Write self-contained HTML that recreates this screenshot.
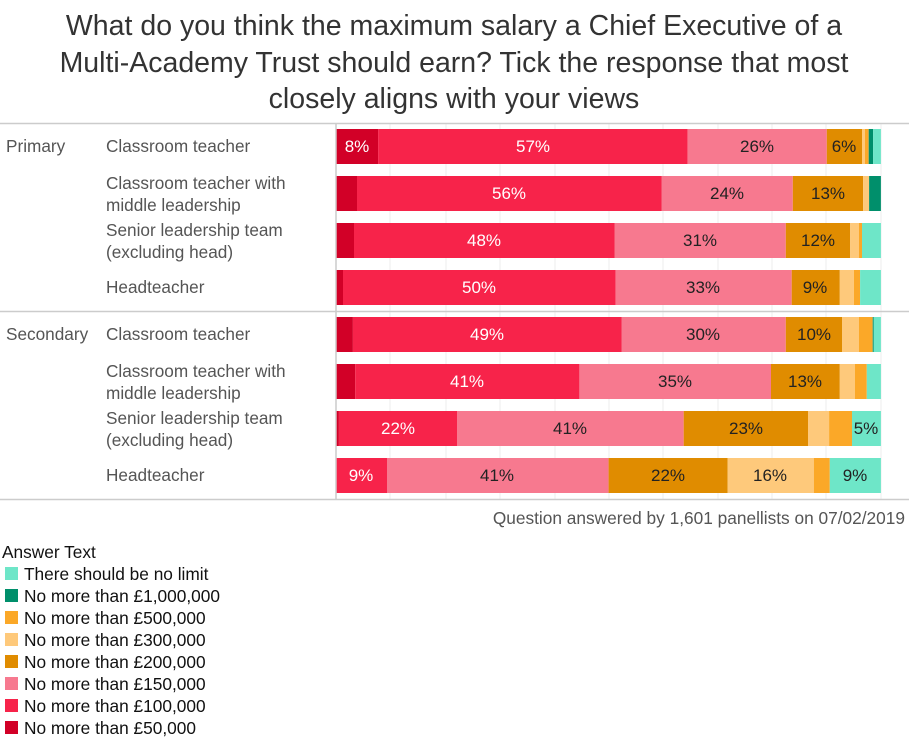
<!DOCTYPE html>
<html><head><meta charset="utf-8"><style>
body{margin:0;background:#fff;}
svg{display:block;font-family:"Liberation Sans",sans-serif;}
</style></head><body>
<svg width="909" height="739" viewBox="0 0 909 739">
<g font-size="28.5" fill="#333" text-anchor="middle">
<text x="454" y="35">What do you think the maximum salary a Chief Executive of a</text>
<text x="454" y="72">Multi-Academy Trust should earn? Tick the response that most</text>
<text x="454" y="108">closely aligns with your views</text>
</g>
<g stroke="#eee" stroke-width="1">
<line x1="390" y1="124" x2="390" y2="499"/><line x1="446" y1="124" x2="446" y2="499"/>
<line x1="500" y1="124" x2="500" y2="499"/><line x1="555" y1="124" x2="555" y2="499"/>
<line x1="609" y1="124" x2="609" y2="499"/><line x1="663" y1="124" x2="663" y2="499"/>
<line x1="718" y1="124" x2="718" y2="499"/><line x1="772" y1="124" x2="772" y2="499"/>
<line x1="826" y1="124" x2="826" y2="499"/><line x1="881" y1="124" x2="881" y2="499"/>
</g>
<g stroke="#ccc" stroke-width="1.5">
<line x1="0" y1="123.5" x2="909" y2="123.5"/>
<line x1="0" y1="311.5" x2="909" y2="311.5"/>
<line x1="0" y1="499.5" x2="909" y2="499.5"/>
<line x1="336" y1="123" x2="336" y2="499"/>
</g>
<g font-size="17.2" fill="#555">
<text x="6" y="152">Primary</text>
<text x="6" y="340">Secondary</text>
<text x="106" y="152">Classroom teacher</text>
<text x="106" y="189">Classroom teacher with</text><text x="106" y="211">middle leadership</text>
<text x="106" y="236">Senior leadership team</text><text x="106" y="258">(excluding head)</text>
<text x="106" y="293">Headteacher</text>
<text x="106" y="340">Classroom teacher</text>
<text x="106" y="377">Classroom teacher with</text><text x="106" y="399">middle leadership</text>
<text x="106" y="424">Senior leadership team</text><text x="106" y="446">(excluding head)</text>
<text x="106" y="481">Headteacher</text>
</g>
<g>
<rect x="336.7" y="129" width="41.4" height="35" fill="#d20027"/>
<rect x="378.1" y="129" width="309.6" height="35" fill="#f7234a"/>
<rect x="687.7" y="129" width="139.1" height="35" fill="#f7798f"/>
<rect x="826.8" y="129" width="35.2" height="35" fill="#e08c00"/>
<rect x="862" y="129" width="3" height="35" fill="#fec97b"/>
<rect x="865" y="129" width="3.7" height="35" fill="#fba828"/>
<rect x="868.7" y="129" width="4.4" height="35" fill="#008f6b"/>
<rect x="873.1" y="129" width="7.8" height="35" fill="#6ee6c8"/>
<rect x="336.7" y="176" width="20.3" height="35" fill="#d20027"/>
<rect x="357" y="176" width="304.5" height="35" fill="#f7234a"/>
<rect x="661.5" y="176" width="131.3" height="35" fill="#f7798f"/>
<rect x="792.8" y="176" width="70.3" height="35" fill="#e08c00"/>
<rect x="863.1" y="176" width="6" height="35" fill="#fec97b"/>
<rect x="869.1" y="176" width="11.8" height="35" fill="#008f6b"/>
<rect x="336.7" y="223" width="17.3" height="35" fill="#d20027"/>
<rect x="354" y="223" width="260.5" height="35" fill="#f7234a"/>
<rect x="614.5" y="223" width="171.3" height="35" fill="#f7798f"/>
<rect x="785.8" y="223" width="64.4" height="35" fill="#e08c00"/>
<rect x="850.2" y="223" width="8.8" height="35" fill="#fec97b"/>
<rect x="859" y="223" width="3" height="35" fill="#fba828"/>
<rect x="862" y="223" width="18.9" height="35" fill="#6ee6c8"/>
<rect x="336.7" y="270" width="6.3" height="35" fill="#d20027"/>
<rect x="343" y="270" width="272.6" height="35" fill="#f7234a"/>
<rect x="615.6" y="270" width="176.1" height="35" fill="#f7798f"/>
<rect x="791.7" y="270" width="48.1" height="35" fill="#e08c00"/>
<rect x="839.8" y="270" width="14.1" height="35" fill="#fec97b"/>
<rect x="853.9" y="270" width="6.2" height="35" fill="#fba828"/>
<rect x="860.1" y="270" width="20.8" height="35" fill="#6ee6c8"/>
<rect x="336.7" y="317" width="16.2" height="35" fill="#d20027"/>
<rect x="352.9" y="317" width="268.6" height="35" fill="#f7234a"/>
<rect x="621.5" y="317" width="164.3" height="35" fill="#f7798f"/>
<rect x="785.8" y="317" width="56.2" height="35" fill="#e08c00"/>
<rect x="842" y="317" width="17" height="35" fill="#fec97b"/>
<rect x="859" y="317" width="13.7" height="35" fill="#fba828"/>
<rect x="872.7" y="317" width="1.1" height="35" fill="#008f6b"/>
<rect x="873.8" y="317" width="7.1" height="35" fill="#6ee6c8"/>
<rect x="336.7" y="364" width="18.5" height="35" fill="#d20027"/>
<rect x="355.2" y="364" width="224.2" height="35" fill="#f7234a"/>
<rect x="579.4" y="364" width="191.6" height="35" fill="#f7798f"/>
<rect x="771" y="364" width="68.8" height="35" fill="#e08c00"/>
<rect x="839.8" y="364" width="15.2" height="35" fill="#fec97b"/>
<rect x="855" y="364" width="11.8" height="35" fill="#fba828"/>
<rect x="866.8" y="364" width="14.1" height="35" fill="#6ee6c8"/>
<rect x="336.7" y="411" width="2.2" height="35" fill="#d20027"/>
<rect x="338.9" y="411" width="118.4" height="35" fill="#f7234a"/>
<rect x="457.3" y="411" width="226.4" height="35" fill="#f7798f"/>
<rect x="683.7" y="411" width="124.3" height="35" fill="#e08c00"/>
<rect x="808" y="411" width="21.1" height="35" fill="#fec97b"/>
<rect x="829.1" y="411" width="22.9" height="35" fill="#fba828"/>
<rect x="852" y="411" width="28.9" height="35" fill="#6ee6c8"/>
<rect x="336.7" y="458" width="50.3" height="35" fill="#f7234a"/>
<rect x="387" y="458" width="221.6" height="35" fill="#f7798f"/>
<rect x="608.6" y="458" width="119.1" height="35" fill="#e08c00"/>
<rect x="727.7" y="458" width="86.1" height="35" fill="#fec97b"/>
<rect x="813.8" y="458" width="16" height="35" fill="#fba828"/>
<rect x="829.8" y="458" width="51.1" height="35" fill="#6ee6c8"/>
</g>
<g font-size="17" text-anchor="middle">
<g fill="#fff">
<text x="357" y="152">8%</text><text x="533" y="152">57%</text>
<text x="509" y="199">56%</text><text x="484" y="246">48%</text><text x="479" y="293">50%</text>
<text x="487" y="340">49%</text><text x="467" y="387">41%</text><text x="398" y="434">22%</text>
<text x="361" y="481">9%</text>
</g>
<g fill="#222">
<text x="757" y="152">26%</text><text x="844" y="152">6%</text>
<text x="727" y="199">24%</text><text x="828" y="199">13%</text>
<text x="700" y="246">31%</text><text x="818" y="246">12%</text>
<text x="703" y="293">33%</text><text x="815" y="293">9%</text>
<text x="703" y="340">30%</text><text x="814" y="340">10%</text>
<text x="675" y="387">35%</text><text x="805" y="387">13%</text>
<text x="570" y="434">41%</text><text x="746" y="434">23%</text><text x="866" y="434">5%</text>
<text x="497" y="481">41%</text><text x="668" y="481">22%</text><text x="770" y="481">16%</text><text x="855" y="481">9%</text>
</g>
</g>
<text x="905" y="524" font-size="17.3" fill="#555" text-anchor="end">Question answered by 1,601 panellists on 07/02/2019</text>
<g font-size="17.3" fill="#111">
<text x="2" y="558">Answer Text</text>
<rect x="5" y="567" width="13" height="13" fill="#6ee6c8"/><text x="24" y="580">There should be no limit</text>
<rect x="5" y="589" width="13" height="13" fill="#008f6b"/><text x="24" y="602">No more than £1,000,000</text>
<rect x="5" y="611" width="13" height="13" fill="#fba828"/><text x="24" y="624">No more than £500,000</text>
<rect x="5" y="633" width="13" height="13" fill="#fec97b"/><text x="24" y="646">No more than £300,000</text>
<rect x="5" y="655" width="13" height="13" fill="#e08c00"/><text x="24" y="668">No more than £200,000</text>
<rect x="5" y="677" width="13" height="13" fill="#f7798f"/><text x="24" y="690">No more than £150,000</text>
<rect x="5" y="699" width="13" height="13" fill="#f7234a"/><text x="24" y="712">No more than £100,000</text>
<rect x="5" y="721" width="13" height="13" fill="#d20027"/><text x="24" y="734">No more than £50,000</text>
</g>
</svg>
</body></html>
